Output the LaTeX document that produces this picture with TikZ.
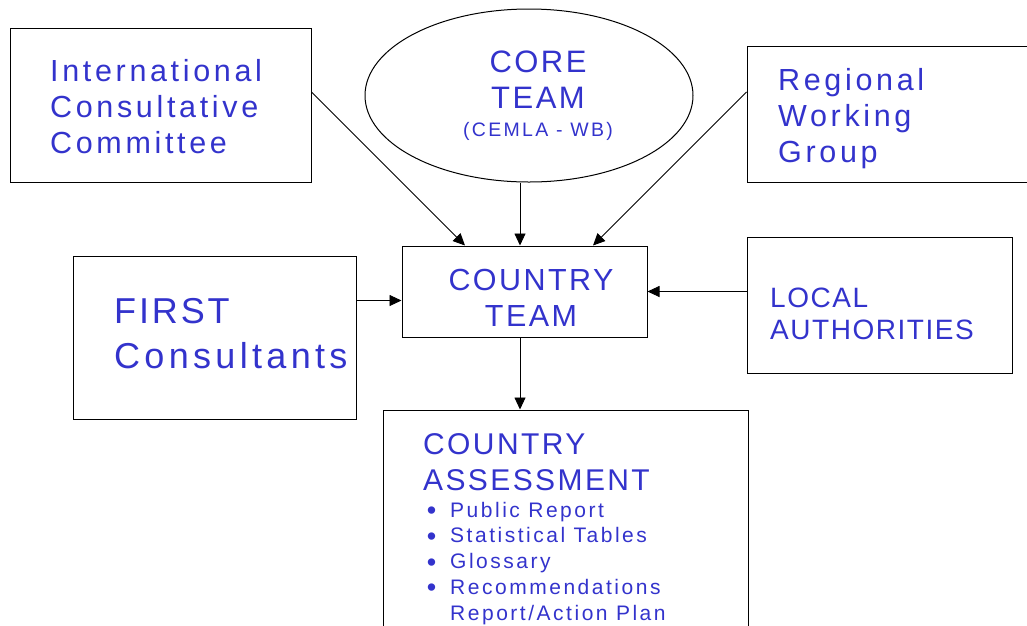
\documentclass[tikz,border=0pt]{standalone}
\usepackage{fontspec}
\setmainfont{Liberation Sans}
\newfontfamily\widefont[LetterSpace=12]{Liberation Sans}
\newfontfamily\capsfont[LetterSpace=8]{Liberation Sans}
\newfontfamily\narrowcaps[LetterSpace=5.5]{Liberation Sans}
\newcommand{\itembullet}{\llap{\raisebox{-2.5pt}{\fontsize{27}{25.7}\selectfont•}\hspace{14pt}}}
\usetikzlibrary{arrows.meta,positioning,shapes.geometric}
\definecolor{txtblue}{RGB}{51,51,204}

\begin{document}
\begin{tikzpicture}[x=1pt,y=-1pt,>={Triangle[length=12pt,width=11pt]}]
    \tikzstyle{box}=[draw,line width=1pt,inner sep=0pt]
    \tikzstyle{txt}=[text=txtblue,inner sep=0pt,align=left,anchor=base west]
    \tikzstyle{arr}=[->,line width=0.9pt]
    \path[use as bounding box,clip] (0,0) rectangle (1027,625);

    \node[box,minimum width=301pt,minimum height=154pt] (icc) at (160.5,105) {};
    \node[box,ellipse,minimum width=328pt,minimum height=173pt] (core) at (529,95.5) {};
    \node[box,minimum width=293pt,minimum height=136pt] (rwg) at (893.5,114) {};
    \node[box,minimum width=245pt,minimum height=91pt] (ct) at (524.5,291.5) {};
    \node[box,minimum width=283pt,minimum height=163pt] (first) at (214.5,337.5) {};
    \node[box,minimum width=265pt,minimum height=136pt] (la) at (879.5,305) {};
    \node[box,minimum width=365pt,minimum height=230pt] (ca) at (565.5,525) {};

    \node[txt,font=\widefont\fontsize{30.5}{36}\selectfont] (icc-t) at (50,153) {International\\Consultative\\Committee};
    \node[txt,anchor=base,align=center,font=\capsfont\fontsize{31}{36}\selectfont] (core-t) at (538,108) {CORE\\TEAM};
    \node[txt,anchor=base,font=\widefont\fontsize{19.5}{22}\selectfont] (cemla-t) at (538,136) {(CEMLA - WB)};
    \node[txt,font=\widefont\fontsize{30.5}{36}\selectfont] (rwg-t) at (778,162) {Regional\\Working\\Group};
    \node[txt,anchor=base,align=center,font=\capsfont\fontsize{30.5}{36}\selectfont] (ct-t) at (531,326) {COUNTRY\\TEAM};
    \node[txt,font=\widefont\fontsize{36}{45}\selectfont] (first-t) at (114,368) {{\capsfont FIRST}\\Consultants};
    \node[txt,font=\narrowcaps\fontsize{28}{32}\selectfont] (la-t) at (770,339) {LOCAL\\AUTHORITIES};
    \node[txt,font=\capsfont\fontsize{30}{36}\selectfont] (ca-t) at (423,490) {COUNTRY\\ASSESSMENT};
    \node[txt,font=\widefont\fontsize{21}{25.7}\selectfont] (ca-items) at (450,620)
        {\itembullet Public Report\\\itembullet Statistical Tables\\\itembullet Glossary\\\itembullet Recommendations\\Report/Action Plan};

    \draw[arr] ([yshift=13pt]icc.east) -- ([xshift=-59.5pt]ct.north);
    \draw[arr] ([xshift=-9pt]core.south) -- ([xshift=-4.5pt]ct.north);
    \draw[arr] ([yshift=22pt]rwg.west) -- ([xshift=68.5pt]ct.north);
    \draw[arr] ([yshift=-9pt]ct.west -| first.east) -- ([yshift=-9pt]ct.west);
    \draw[arr] (la.west |- ct.east) -- (ct.east);
    \draw[arr] ([xshift=-4.5pt]ct.south) -- ([xshift=-4.5pt]ct.south |- ca.north);
\end{tikzpicture}
\end{document}
